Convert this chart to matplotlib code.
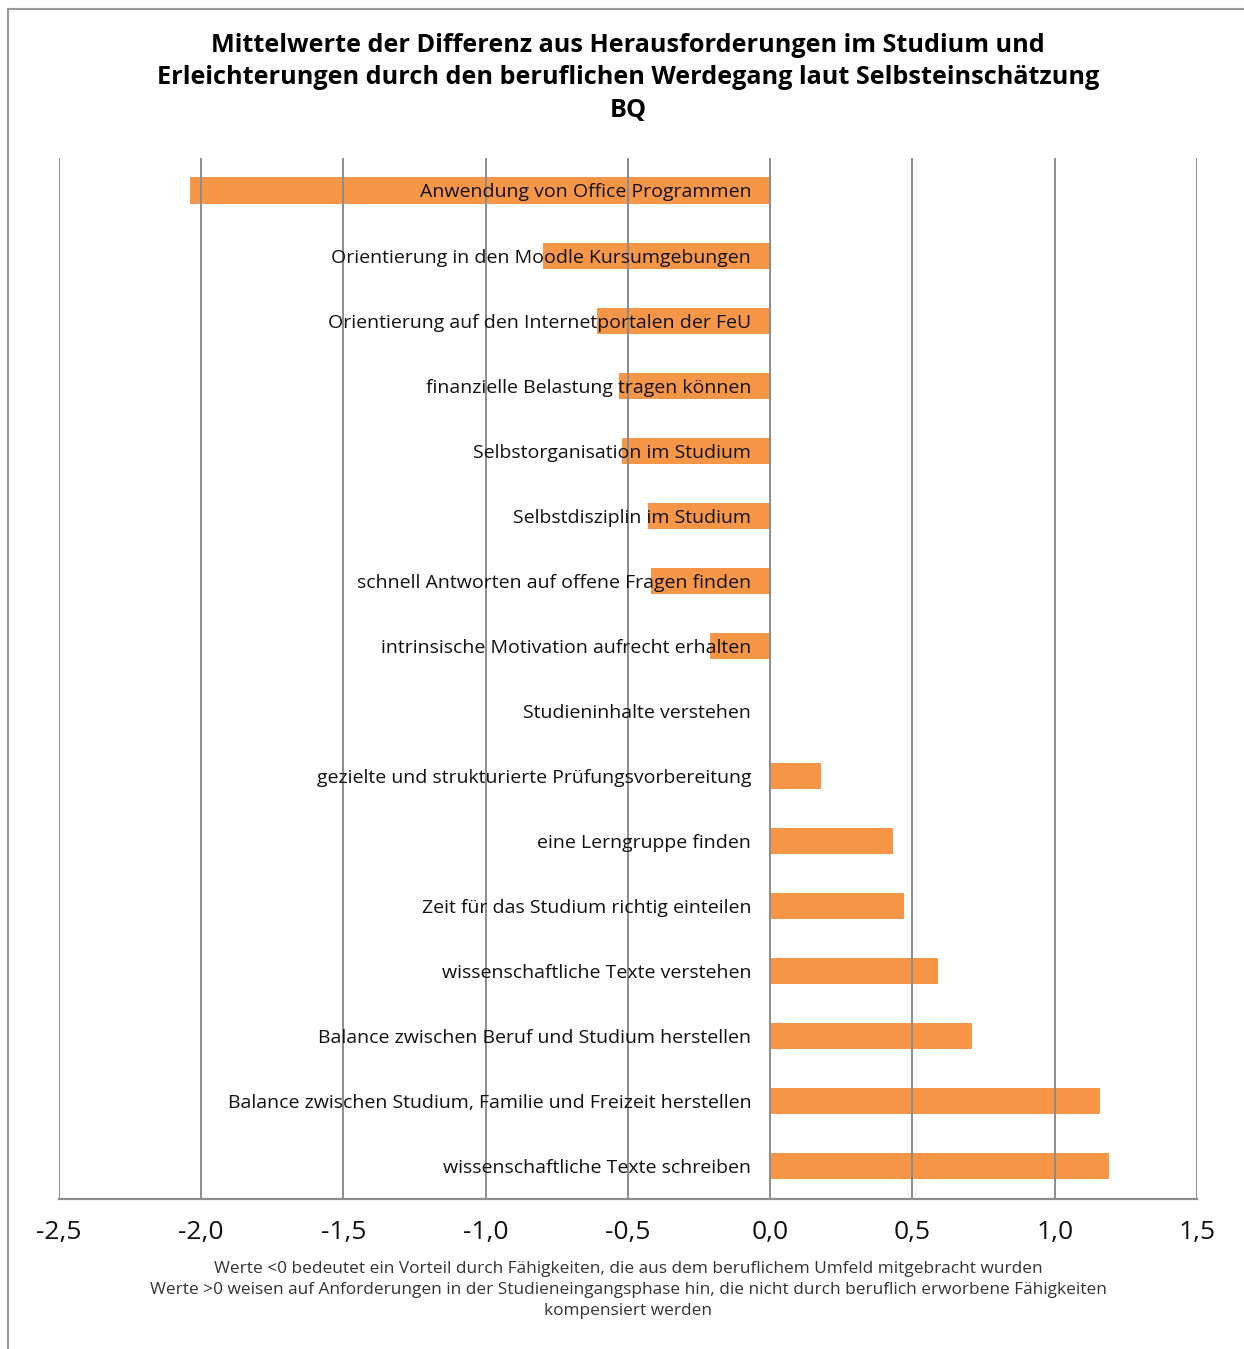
import matplotlib.pyplot as plt
from matplotlib.lines import Line2D
from matplotlib.ticker import FuncFormatter

plt.rcParams['font.family'] = ['Open Sans', 'DejaVu Sans']

# Data
labels = [
    'Anwendung von Office Programmen',
    'Orientierung in den Moodle Kursumgebungen',
    'Orientierung auf den Internetportalen der FeU',
    'finanzielle Belastung tragen können',
    'Selbstorganisation im Studium',
    'Selbstdisziplin im Studium',
    'schnell Antworten auf offene Fragen finden',
    'intrinsische Motivation aufrecht erhalten',
    'Studieninhalte verstehen',
    'gezielte und strukturierte Prüfungsvorbereitung',
    'eine Lerngruppe finden',
    'Zeit für das Studium richtig einteilen',
    'wissenschaftliche Texte verstehen',
    'Balance zwischen Beruf und Studium herstellen',
    'Balance zwischen Studium, Familie und Freizeit herstellen',
    'wissenschaftliche Texte schreiben',
]
values = [-2.04, -0.80, -0.61, -0.53, -0.52, -0.43, -0.42, -0.21,
          0.0, 0.18, 0.43, 0.47, 0.59, 0.71, 1.16, 1.19]
xticks = [-2.5, -2.0, -1.5, -1.0, -0.5, 0.0, 0.5, 1.0, 1.5]

title = ('Mittelwerte der Differenz aus Herausforderungen im Studium und\n'
         'Erleichterungen durch den beruflichen Werdegang laut Selbsteinschätzung\n'
         'BQ')
note = ('Werte <0 bedeutet ein Vorteil durch Fähigkeiten, die aus dem beruflichem Umfeld mitgebracht wurden\n'
        'Werte >0 weisen auf Anforderungen in der Studieneingangsphase hin, die nicht durch beruflich erworbene Fähigkeiten\n'
        'kompensiert werden')

orange = '#F79646'
grey = '#8C8C8C'

fig = plt.figure(figsize=(12.44, 13.49), dpi=100)
ax = fig.add_axes([0.0474, 0.1112, 0.9148, 0.7717])

pos = list(range(len(labels)))
ax.barh(pos, values, height=0.4, color=orange, zorder=1)
for x in xticks:
    ax.axvline(x, color=grey, lw=1.4, zorder=2)

for i, lab in enumerate(labels):
    ax.annotate(lab, xy=(0, i), xytext=(-13.7, -1.4), textcoords='offset points',
                ha='right', va='center', fontsize=14, color='#111111', zorder=3)

ax.set_xlim(-2.5, 1.5)
ax.set_ylim(len(labels) - 0.5, -0.5)
ax.set_xticks(xticks)
ax.xaxis.set_major_formatter(FuncFormatter(lambda v, p: f'{v:.1f}'.replace('.', ',')))
ax.tick_params(axis='x', length=0, pad=15, labelsize=19, labelcolor='#111111')
ax.set_yticks([])
for s in ['top', 'left', 'right']:
    ax.spines[s].set_visible(False)
ax.spines['bottom'].set_color(grey)
ax.spines['bottom'].set_linewidth(1.6)

fig.text(0.5048, 1 - 78 / 1349, title, ha='center', va='center', fontsize=18.2,
         fontweight='bold', linespacing=1.4)
fig.text(0.5048, 1 - 1290 / 1349, note, ha='center', va='center', fontsize=12.4,
         color='#333333', linespacing=1.42)

# outer frame (left and top edge)
fig.add_artist(Line2D([8 / 1244, 8 / 1244], [0, 1 - 9 / 1349], transform=fig.transFigure,
                      color='#9a9a9a', lw=1.5))
fig.add_artist(Line2D([8 / 1244, 1], [1 - 9 / 1349, 1 - 9 / 1349], transform=fig.transFigure,
                      color='#9a9a9a', lw=1.5))

plt.savefig('out.png', dpi=100)
